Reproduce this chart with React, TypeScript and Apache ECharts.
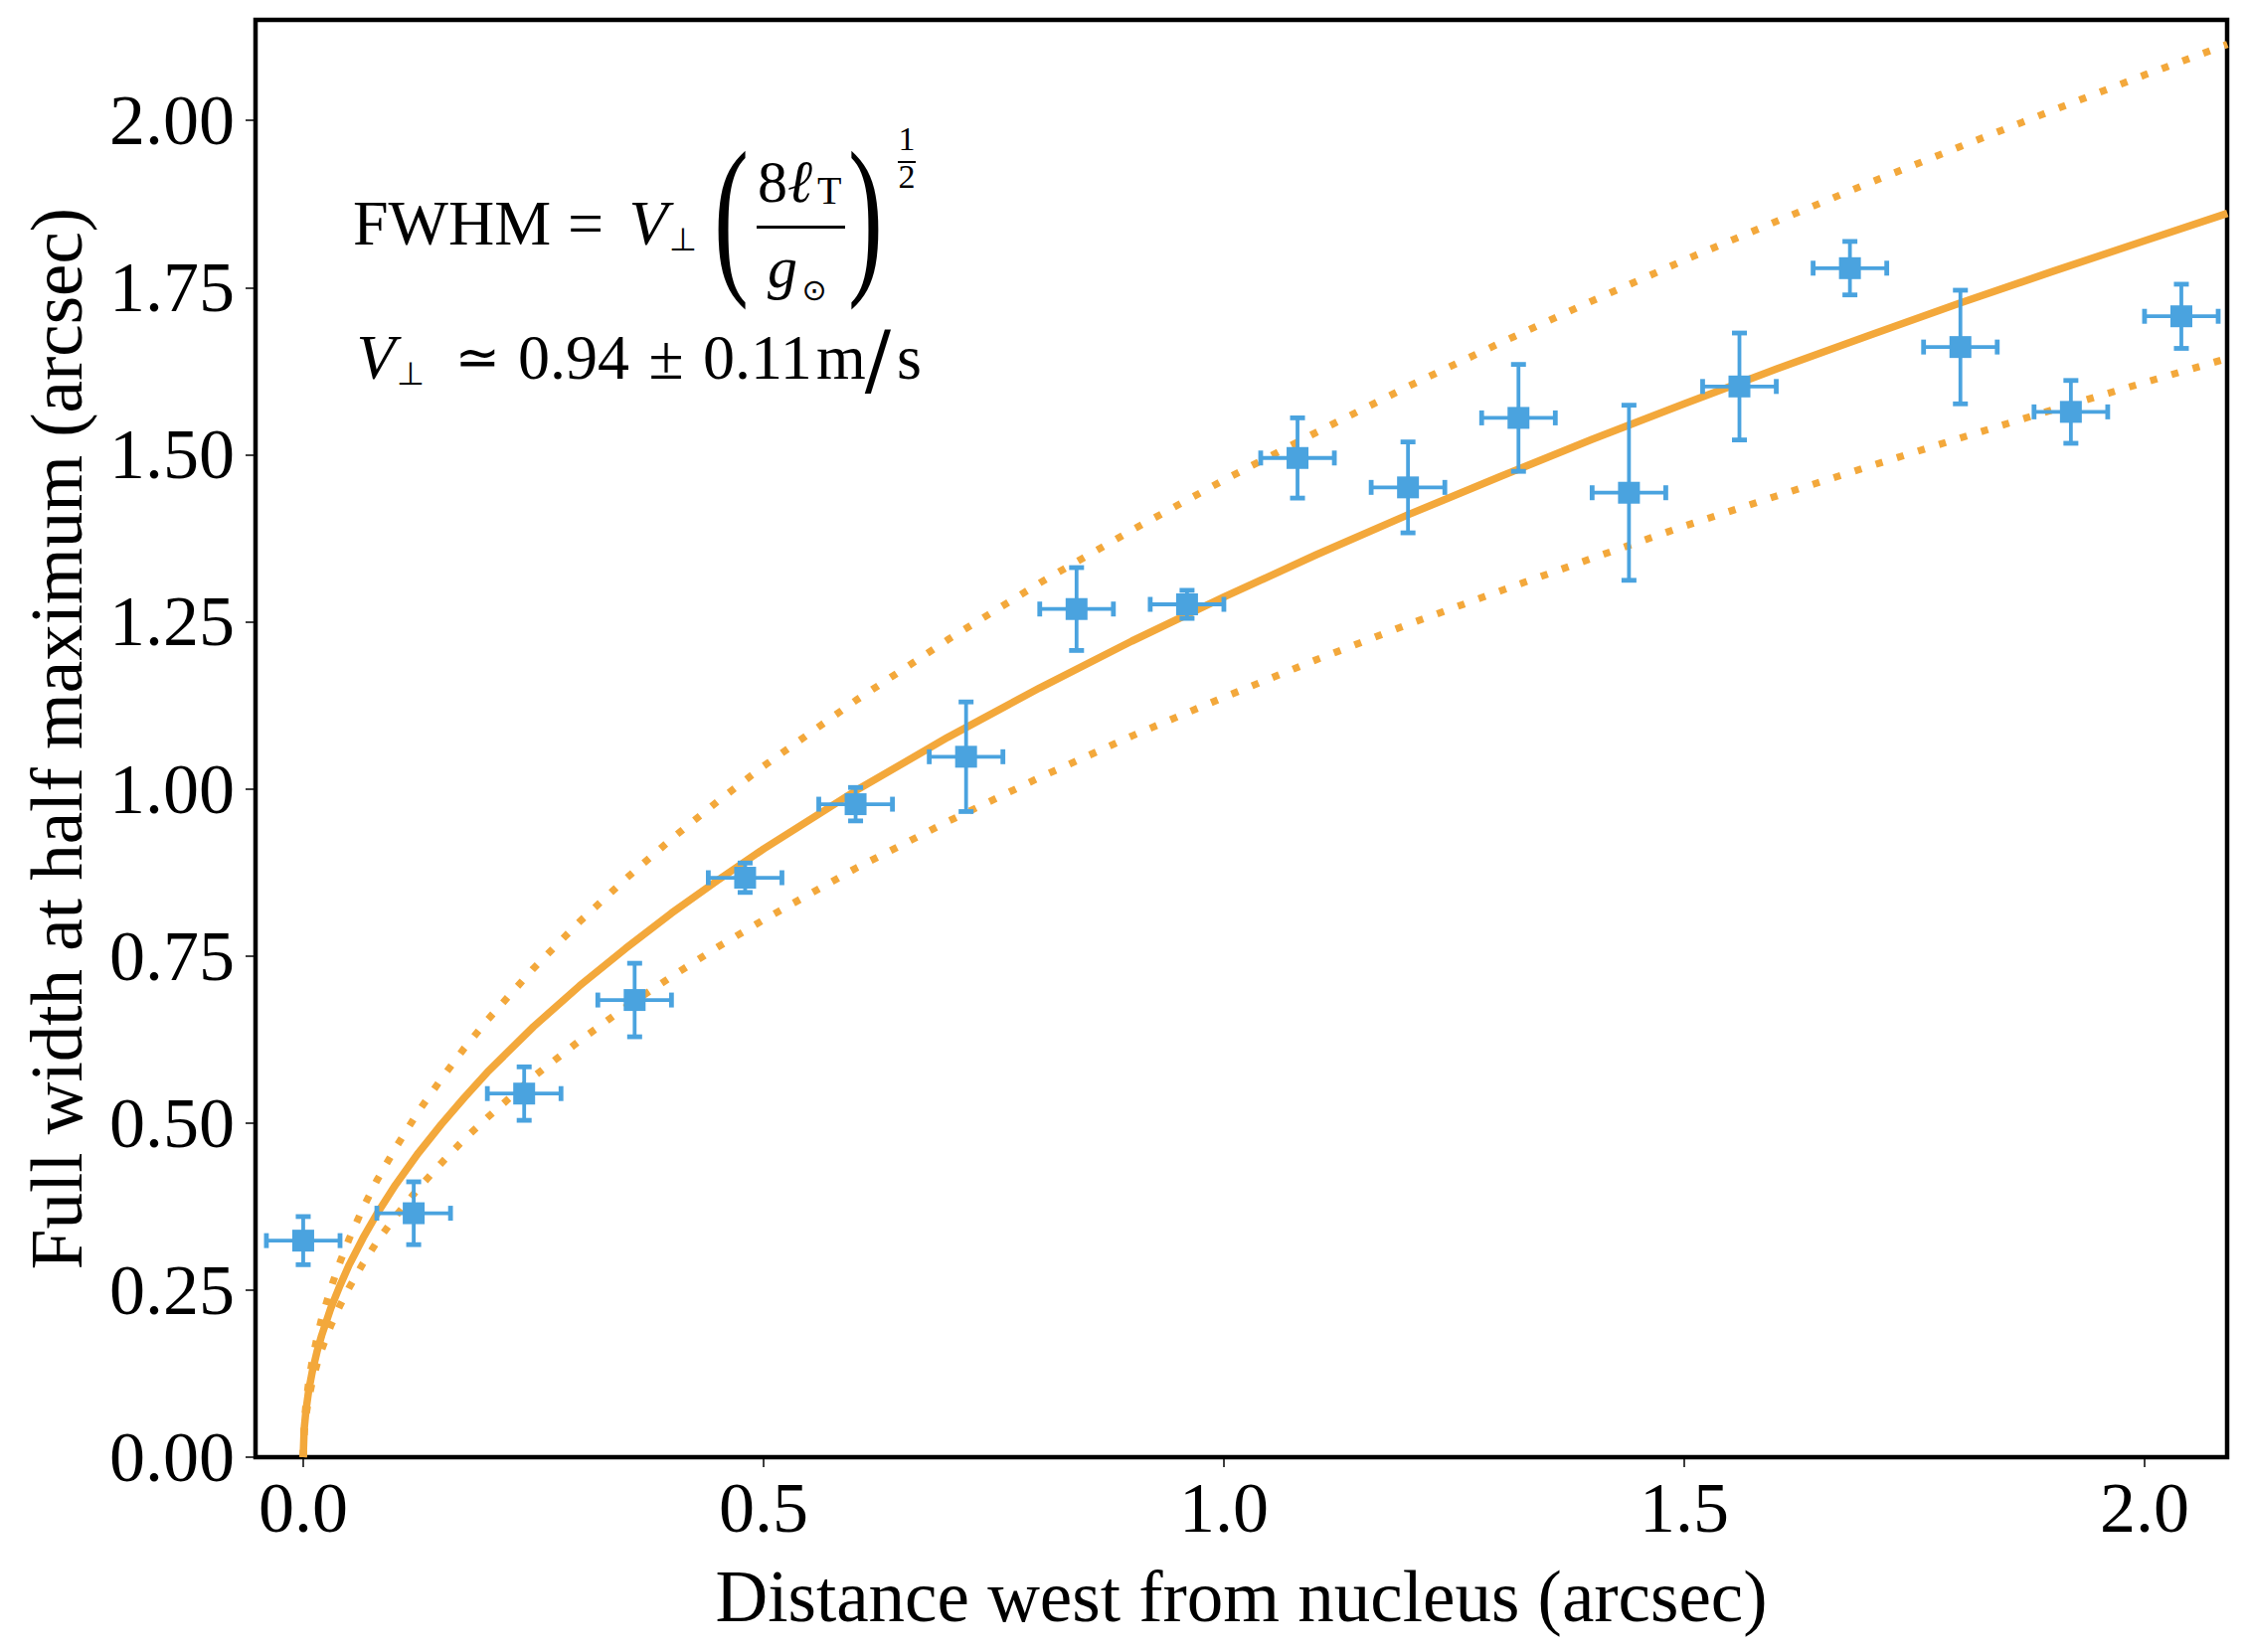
import React, { useEffect, useRef } from "react";
import * as echarts from "echarts";

// ---- data ----
const distance = [0, 0.12, 0.24, 0.36, 0.48, 0.6, 0.72, 0.84, 0.96, 1.08, 1.2, 1.32, 1.44, 1.56, 1.68, 1.8, 1.92, 2.04];
const fwhm = [0.324, 0.365, 0.544, 0.684, 0.867, 0.977, 1.048, 1.269, 1.276, 1.495, 1.451, 1.555, 1.443, 1.602, 1.779, 1.661, 1.564, 1.707];
const fwhmErr = [0.036, 0.047, 0.04, 0.055, 0.022, 0.025, 0.082, 0.062, 0.021, 0.06, 0.068, 0.08, 0.131, 0.08, 0.04, 0.085, 0.047, 0.048];
const distErr = [0.04, 0.04, 0.04, 0.04, 0.04, 0.04, 0.04, 0.04, 0.04, 0.04, 0.04, 0.04, 0.04, 0.04, 0.04, 0.04, 0.04, 0.04];

// points
const curveX = [0, 0.001, 0.003, 0.006, 0.01, 0.015, 0.02, 0.03, 0.04, 0.05, 0.065, 0.08, 0.1, 0.125, 0.15, 0.175, 0.2, 0.25, 0.3, 0.35, 0.4, 0.45, 0.5, 0.6, 0.7, 0.8, 0.9, 1.0, 1.1, 1.2, 1.3, 1.4, 1.5, 1.6, 1.7, 1.8, 1.9, 2.0, 2.09];
const fitBest = [0, 0.041, 0.07, 0.1, 0.129, 0.158, 0.182, 0.223, 0.257, 0.288, 0.328, 0.364, 0.407, 0.455, 0.498, 0.538, 0.576, 0.644, 0.705, 0.761, 0.814, 0.863, 0.91, 0.997, 1.077, 1.151, 1.221, 1.287, 1.35, 1.41, 1.467, 1.523, 1.576, 1.628, 1.678, 1.727, 1.774, 1.82, 1.861];
const fitUpper = [0, 0.046, 0.08, 0.113, 0.146, 0.179, 0.207, 0.253, 0.292, 0.327, 0.373, 0.414, 0.462, 0.517, 0.566, 0.612, 0.654, 0.731, 0.801, 0.865, 0.925, 0.981, 1.034, 1.132, 1.223, 1.308, 1.387, 1.462, 1.533, 1.602, 1.667, 1.73, 1.791, 1.849, 1.906, 1.961, 2.015, 2.068, 2.114];
const fitLower = [0, 0.036, 0.062, 0.088, 0.114, 0.139, 0.161, 0.197, 0.227, 0.254, 0.29, 0.322, 0.36, 0.402, 0.44, 0.476, 0.508, 0.569, 0.623, 0.673, 0.719, 0.763, 0.804, 0.881, 0.951, 1.017, 1.079, 1.137, 1.193, 1.246, 1.296, 1.345, 1.393, 1.438, 1.482, 1.525, 1.567, 1.608, 1.644];

const xTicks = [0, 0.5, 1.0, 1.5, 2.0];
const yTicks = [0, 0.25, 0.5, 0.75, 1.0, 1.25, 1.5, 1.75, 2.0];

const xTitle = "Distance west from nucleus (arcsec)";
const yTitle = "Full width at half maximum (arcsec)";

const BLUE = "#4aa3df";
const ORANGE = "#f3a83b";
const SERIF = '"Liberation Serif", "DejaVu Serif", serif';
const MATH = '"DejaVu Sans", "DejaVu Serif", sans-serif';

function txt(text: string, x: number, y: number, size: number, opts: any = {}) {
  return {
    type: "text",
    x,
    y,
    scaleX: opts.scaleX ?? 1,
    z: 100,
    style: {
      text,
      x: 0,
      y: 0,
      fill: "#000",
      fontSize: size,
      fontFamily: opts.family ?? SERIF,
      fontStyle: opts.italic ? "italic" : "normal",
      align: opts.align ?? "left",
      verticalAlign: "middle",
    },
  };
}

function hline(x1: number, x2: number, y: number, w: number) {
  return { type: "line", z: 100, shape: { x1, y1: y, x2, y2: y }, style: { stroke: "#000", lineWidth: w } };
}

export default function App() {
  const ref = useRef<HTMLDivElement>(null);
  useEffect(() => {
    if (!ref.current) return;
    const chart = echarts.init(ref.current, undefined, { renderer: "svg" });

    const points = distance.map((x, i) => [x, fwhm[i]]);
    const errData = distance.map((x, i) => [x, fwhm[i], distErr[i], fwhmErr[i]]);
    const line = (ys: number[]) => curveX.map((x, i) => [x, ys[i]]);

    const option: any = {
      animation: false,
      backgroundColor: "#ffffff",
      grid: {
        left: 257,
        right: 20,
        top: 20,
        bottom: 196,
        show: true,
        borderColor: "#000",
        borderWidth: 4.5,
        backgroundColor: "transparent",
        containLabel: false,
        outerBoundsMode: "none",
      },
      xAxis: {
        type: "value",
        min: -0.0518,
        max: 2.0897,
        axisLine: { show: false, onZero: false },
        splitLine: { show: false },
        axisTick: { show: true, length: 10, lineStyle: { color: "#000", width: 1.5 }, customValues: xTicks },
        axisLabel: {
          customValues: xTicks,
          formatter: (v: number) => v.toFixed(1),
          fontSize: 72,
          fontFamily: SERIF,
          color: "#000",
          margin: 15,
        },
        name: xTitle,
        nameLocation: "middle",
        nameGap: 104,
        nameTextStyle: { fontSize: 73, fontFamily: SERIF, color: "#000" },
      },
      yAxis: {
        type: "value",
        min: 0,
        max: 2.1505,
        axisLine: { show: false, onZero: false },
        splitLine: { show: false },
        axisTick: { show: true, length: 10, lineStyle: { color: "#000", width: 1.5 }, customValues: yTicks },
        axisLabel: {
          customValues: yTicks,
          formatter: (v: number) => v.toFixed(2),
          fontSize: 72,
          fontFamily: SERIF,
          color: "#000",
          margin: 21,
        },
        name: yTitle,
        nameLocation: "middle",
        nameRotate: 90,
        nameGap: 163,
        nameTextStyle: { fontSize: 73, fontFamily: SERIF, color: "#000" },
      },
      series: [
        {
          type: "line",
          data: line(fitUpper),
          showSymbol: false,
          smooth: false,
          z: 2,
          lineStyle: { color: ORANGE, width: 7.2, type: [7.2, 15], cap: "butt" },
        },
        {
          type: "line",
          data: line(fitLower),
          showSymbol: false,
          smooth: false,
          z: 2,
          lineStyle: { color: ORANGE, width: 7.2, type: [7.2, 15], cap: "butt" },
        },
        {
          type: "line",
          data: line(fitBest),
          showSymbol: false,
          smooth: false,
          z: 3,
          lineStyle: { color: ORANGE, width: 7.5, type: "solid", join: "round" },
        },
        {
          type: "custom",
          z: 4,
          data: errData,
          renderItem: (params: any, api: any) => {
            const x = api.value(0);
            const y = api.value(1);
            const xe = api.value(2);
            const ye = api.value(3);
            const l = api.coord([x - xe, y]);
            const r = api.coord([x + xe, y]);
            const t = api.coord([x, y + ye]);
            const b = api.coord([x, y - ye]);
            const cap = 7.5;
            const s = { stroke: BLUE, lineWidth: 3.8, lineCap: "butt" };
            const sc = { stroke: BLUE, lineWidth: 4.8, lineCap: "butt" };
            return {
              type: "group",
              children: [
                { type: "line", shape: { x1: l[0], y1: l[1], x2: r[0], y2: r[1] }, style: s },
                { type: "line", shape: { x1: t[0], y1: t[1], x2: b[0], y2: b[1] }, style: s },
                { type: "line", shape: { x1: t[0] - cap, y1: t[1], x2: t[0] + cap, y2: t[1] }, style: sc },
                { type: "line", shape: { x1: b[0] - cap, y1: b[1], x2: b[0] + cap, y2: b[1] }, style: sc },
                { type: "line", shape: { x1: l[0], y1: l[1] - cap, x2: l[0], y2: l[1] + cap }, style: sc },
                { type: "line", shape: { x1: r[0], y1: r[1] - cap, x2: r[0], y2: r[1] + cap }, style: sc },
              ],
            };
          },
        },
        {
          type: "scatter",
          z: 5,
          data: points,
          symbol: "rect",
          symbolSize: 22,
          itemStyle: { color: BLUE, opacity: 1 },
        },
      ],
      graphic: [
        // FWHM = V_perp (8 l_T / g_sun)^(1/2)
        txt("FWHM", 355, 224.6, 64),
        txt("=", 589, 224.6, 64, { align: "center" }),
        txt("V", 652, 224.6, 64, { italic: true, align: "center" }),
        txt("⊥", 673, 241, 32, { family: MATH }),
        txt("(", 718, 215, 175, { scaleX: 0.6 }),
        txt("8", 762, 182.8, 60),
        txt("ℓ", 792, 182.8, 60, { italic: true }),
        txt("T", 822, 191.5, 40),
        hline(761, 850, 228.4, 3),
        txt("g", 772, 268.8, 60, { italic: true }),
        txt("⊙", 819, 291, 30, { family: MATH, align: "center" }),
        txt(")", 853, 215, 175, { scaleX: 0.6 }),
        txt("1", 912, 139.5, 34, { align: "center" }),
        hline(903, 921, 163, 2),
        txt("2", 912, 177, 34, { align: "center" }),
        // V_perp ~ 0.94 +- 0.11 m/s
        txt("V", 378, 359, 64, { italic: true, align: "center" }),
        txt("⊥", 399, 376, 32, { family: MATH }),
        txt("≃", 480, 359, 54, { family: MATH, align: "center" }),
        txt("0.94", 521, 359, 64),
        txt("±", 670, 359, 64, { align: "center" }),
        txt("0.11", 707, 359, 64),
        txt("m", 821, 359, 64),
        txt("/", 883, 362, 78, { family: '"DejaVu Serif", serif', align: "center" }),
        txt("s", 902, 359, 64),
      ],
    };

    chart.setOption(option);
    return () => chart.dispose();
  }, []);

  return (
    <div
      ref={ref}
      style={{ position: "fixed", left: 0, top: 0, width: 2260, height: 1662, background: "#fff" }}
    />
  );
}
